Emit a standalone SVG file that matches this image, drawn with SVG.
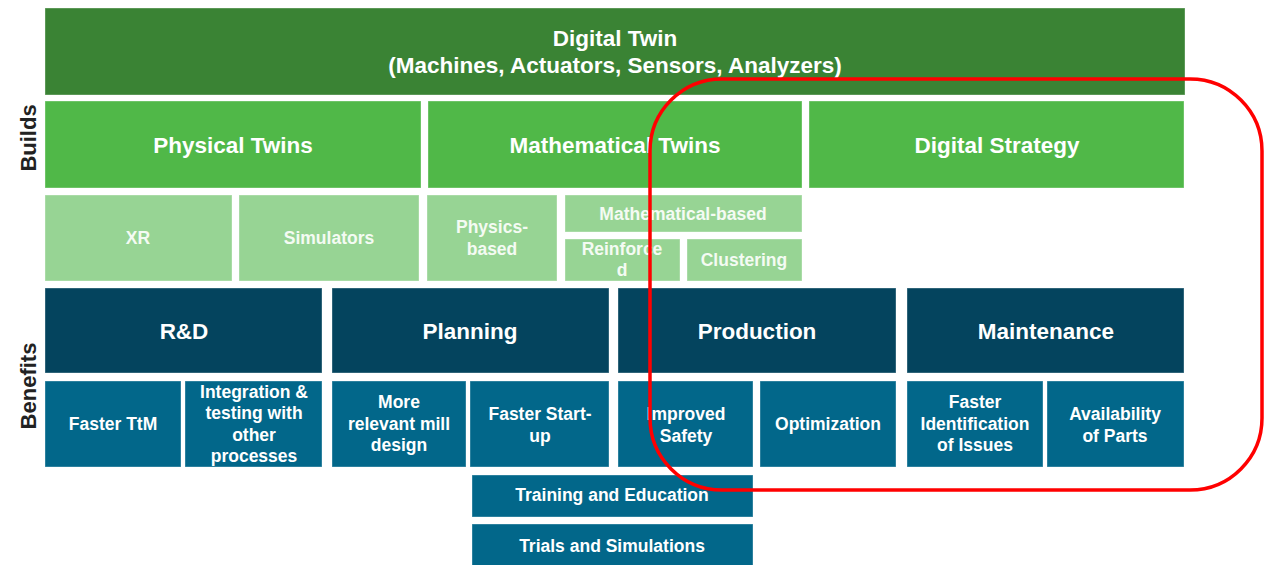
<svg xmlns="http://www.w3.org/2000/svg" width="1267" height="565" viewBox="0 0 1267 565">
  <style>
    text { font-family: "Liberation Sans", Arial, sans-serif; font-weight: bold; fill: #ffffff; text-anchor: middle; }
    .box { stroke: #ffffff; stroke-opacity: 0.35; stroke-width: 1; }
    .top { fill: #3a8334; }
    .mid { fill: #50b848; }
    .light { fill: #97d494; }
    .dark { fill: #04445e; }
    .teal { fill: #02678a; }
    .h { font-size: 22.5px; }
    .s { font-size: 17.5px; }
    .side { font-size: 22px; fill: #222222; }
    .lt { fill: #f4fbf3; }
  </style>

  <!-- side labels -->
  <g id="label-builds"><text class="side" transform="translate(36,138) rotate(-90)">Builds</text></g>
  <g id="label-benefits"><text class="side" transform="translate(36,386) rotate(-90)">Benefits</text></g>

  <!-- top bar -->
  <g id="digital-twin">
    <rect class="box top" x="45" y="8" width="1140" height="87"/>
    <text class="h" x="615" y="46">Digital Twin</text>
    <text class="h" x="615" y="73">(Machines, Actuators, Sensors, Analyzers)</text>
  </g>

  <!-- builds row -->
  <g id="physical-twins">
    <rect class="box mid" x="45" y="101" width="376" height="87"/>
    <text class="h" x="233" y="153">Physical Twins</text>
  </g>
  <g id="mathematical-twins">
    <rect class="box mid" x="428" y="101" width="374" height="87"/>
    <text class="h" x="615" y="153">Mathematical Twins</text>
  </g>
  <g id="digital-strategy">
    <rect class="box mid" x="809" y="101" width="375" height="87"/>
    <text class="h" x="997" y="153">Digital Strategy</text>
  </g>

  <g id="xr">
    <rect class="box light" x="45" y="195" width="187" height="86"/>
    <text class="s lt" x="138" y="244">XR</text>
  </g>
  <g id="simulators">
    <rect class="box light" x="239" y="195" width="180" height="86"/>
    <text class="s lt" x="329" y="244">Simulators</text>
  </g>
  <g id="physics-based">
    <rect class="box light" x="427" y="195" width="130" height="86"/>
    <text class="s lt" x="492" y="233">Physics-</text>
    <text class="s lt" x="492" y="255">based</text>
  </g>
  <g id="mathematical-based">
    <rect class="box light" x="565" y="195" width="237" height="37"/>
    <text class="s lt" x="683" y="220">Mathematical-based</text>
  </g>
  <g id="reinforced">
    <rect class="box light" x="565" y="239" width="115" height="42"/>
    <text class="s lt" x="622" y="255">Reinforce</text>
    <text class="s lt" x="622" y="276">d</text>
  </g>
  <g id="clustering">
    <rect class="box light" x="687" y="239" width="115" height="42"/>
    <text class="s lt" x="744" y="266">Clustering</text>
  </g>

  <!-- benefits row -->
  <g id="rnd">
    <rect class="box dark" x="45" y="288" width="277" height="85"/>
    <text class="h" x="184" y="339">R&amp;D</text>
  </g>
  <g id="planning">
    <rect class="box dark" x="332" y="288" width="277" height="85"/>
    <text class="h" x="470" y="339">Planning</text>
  </g>
  <g id="production">
    <rect class="box dark" x="618" y="288" width="278" height="85"/>
    <text class="h" x="757" y="339">Production</text>
  </g>
  <g id="maintenance">
    <rect class="box dark" x="907" y="288" width="277" height="85"/>
    <text class="h" x="1046" y="339">Maintenance</text>
  </g>

  <g id="faster-ttm">
    <rect class="box teal" x="45" y="381" width="136" height="86"/>
    <text class="s" x="113" y="430">Faster TtM</text>
  </g>
  <g id="integration-testing">
    <rect class="box teal" x="185" y="381" width="137" height="86"/>
    <text class="s" x="254" y="398">Integration &amp;</text>
    <text class="s" x="254" y="419">testing with</text>
    <text class="s" x="254" y="441">other</text>
    <text class="s" x="254" y="462">processes</text>
  </g>
  <g id="mill-design">
    <rect class="box teal" x="332" y="381" width="134" height="86"/>
    <text class="s" x="399" y="408">More</text>
    <text class="s" x="399" y="430">relevant mill</text>
    <text class="s" x="399" y="451">design</text>
  </g>
  <g id="faster-startup">
    <rect class="box teal" x="470" y="381" width="139" height="86"/>
    <text class="s" x="540" y="420">Faster Start-</text>
    <text class="s" x="540" y="442">up</text>
  </g>
  <g id="improved-safety">
    <rect class="box teal" x="618" y="381" width="135" height="86"/>
    <text class="s" x="686" y="420">Improved</text>
    <text class="s" x="686" y="442">Safety</text>
  </g>
  <g id="optimization">
    <rect class="box teal" x="760" y="381" width="136" height="86"/>
    <text class="s" x="828" y="430">Optimization</text>
  </g>
  <g id="faster-identification">
    <rect class="box teal" x="907" y="381" width="136" height="86"/>
    <text class="s" x="975" y="408">Faster</text>
    <text class="s" x="975" y="430">Identification</text>
    <text class="s" x="975" y="451">of Issues</text>
  </g>
  <g id="availability-parts">
    <rect class="box teal" x="1047" y="381" width="137" height="86"/>
    <text class="s" x="1115" y="420">Availability</text>
    <text class="s" x="1115" y="442">of Parts</text>
  </g>

  <g id="training-education">
    <rect class="box teal" x="472" y="475" width="281" height="42"/>
    <text class="s" x="612" y="501">Training and Education</text>
  </g>
  <g id="trials-simulations">
    <rect class="box teal" x="472" y="524" width="281" height="45"/>
    <text class="s" x="612" y="552">Trials and Simulations</text>
  </g>

  <!-- red outline around the production / maintenance / strategy area -->
  <g id="connectors">
    <rect x="650" y="79" width="612" height="411" rx="72" ry="72" fill="none" stroke="#ff0000" stroke-width="3.5"/>
  </g>
</svg>
